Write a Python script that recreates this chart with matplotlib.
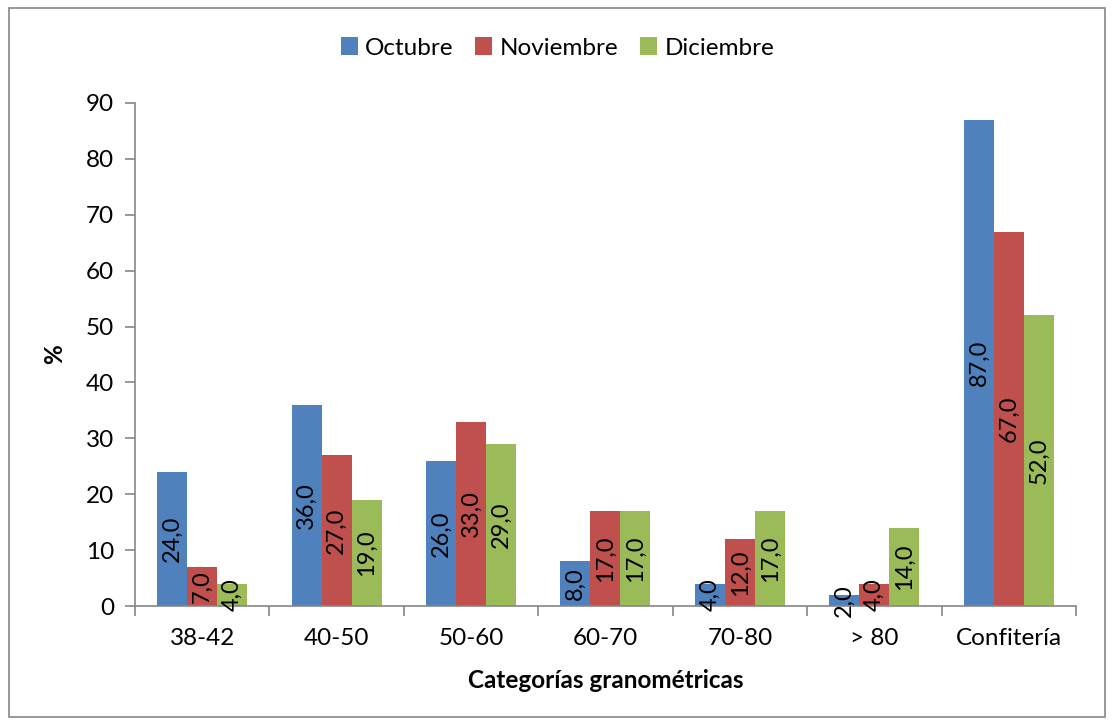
import numpy as np
import matplotlib.pyplot as plt
from matplotlib.patches import Rectangle

# datos
categorias = ["38-42", "40-50", "50-60", "60-70", "70-80", "> 80", "Confitería"]
octubre = [24, 36, 26, 8, 4, 2, 87]
noviembre = [7, 27, 33, 17, 12, 4, 67]
diciembre = [4, 19, 29, 17, 17, 14, 52]
series = ["Octubre", "Noviembre", "Diciembre"]
colores = ["#4F81BD", "#C0504D", "#9BBB59"]

plt.rcParams["font.family"] = ["Lato", "DejaVu Sans"]
FS = 17.5
FS_BAR = 17

fig = plt.figure(figsize=(11.15, 7.25), dpi=100)
ax = fig.add_axes([0.121, 0.164, 0.844, 0.694])

# marco exterior
fig.patches.append(Rectangle((9 / 1115, 8 / 725), 1096 / 1115, 709 / 725,
                             transform=fig.transFigure, fill=False,
                             edgecolor="#868686", linewidth=1.2))

x = np.arange(len(categorias))
w = 0.223
for i, (vals, nombre, col) in enumerate(zip([octubre, noviembre, diciembre], series, colores)):
    pos = x + (i - 1) * w
    bars = ax.bar(pos, vals, w, color=col, label=nombre, zorder=2)
    for b, v in zip(bars, vals):
        ax.text(b.get_x() + b.get_width() / 2, v / 2, f"{v:.1f}".replace(".", ","),
                rotation=90, ha="center", va="center", fontsize=FS_BAR, color="black", zorder=3)

ax.set_xlim(-0.5, len(categorias) - 0.5)
ax.set_ylim(0, 90)
ax.set_yticks(range(0, 91, 10))
ax.set_xticks(x)
ax.set_xticklabels(categorias, fontsize=FS)
ax.set_xticks(np.arange(-0.5, len(categorias), 1), minor=True)
ax.tick_params(axis="x", which="major", length=0, pad=16)
ax.tick_params(axis="x", which="minor", length=7, color="#868686", width=1.2)
ax.tick_params(axis="y", length=7, color="#868686", width=1.2, labelsize=FS, pad=8)

for s in ["top", "right"]:
    ax.spines[s].set_visible(False)
for s in ["left", "bottom"]:
    ax.spines[s].set_color("#868686")
    ax.spines[s].set_linewidth(1.2)

ax.set_xlabel("Categorías granométricas", fontsize=FS, fontweight="bold", labelpad=14)
ax.set_ylabel("%", fontsize=FS, fontweight="bold", labelpad=14)

ax.legend(loc="center", bbox_to_anchor=(0.5, 1 - 48 / 725), bbox_transform=fig.transFigure,
          ncol=3, frameon=False, fontsize=FS, handlelength=0.7, handleheight=0.7,
          handletextpad=0.3, columnspacing=0.9)

fig.savefig("out.png", dpi=100)
